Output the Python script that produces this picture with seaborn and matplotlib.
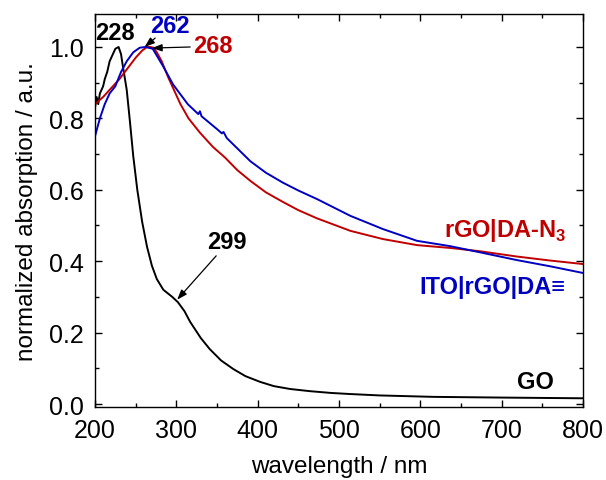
import matplotlib
matplotlib.use("Agg")
import matplotlib.pyplot as plt
from matplotlib.ticker import MultipleLocator, FormatStrFormatter
import numpy as np
import pandas as pd
import seaborn as sns

# Normalized UV-vis absorption spectra
go_wl = [200, 202, 204, 206, 210, 212, 215, 218, 222, 225, 229, 232, 234, 239, 243,
         247, 252, 258, 264, 270, 276, 284, 295, 302, 310, 317, 330, 341, 355, 370,
         385, 403, 420, 440, 464, 490, 513, 550, 616, 700, 800]
go_abs = [0.83, 0.86, 0.84, 0.87, 0.89, 0.91, 0.93, 0.96, 0.98, 0.995, 1.0, 0.98, 0.95,
          0.88, 0.79, 0.695, 0.60, 0.51, 0.44, 0.387, 0.35, 0.32, 0.30, 0.285, 0.26,
          0.23, 0.185, 0.154, 0.122, 0.098, 0.078, 0.062, 0.05, 0.042, 0.036, 0.031,
          0.028, 0.024, 0.02, 0.018, 0.016]

rgo_wl = [200, 210, 220, 230, 240, 250, 258, 264, 268, 272, 276, 282, 290, 295, 305,
          315, 329, 345, 360, 375, 391, 410, 431, 450, 473, 514, 554, 596, 637, 673,
          719, 759, 800]
rgo_abs = [0.84, 0.86, 0.885, 0.91, 0.94, 0.97, 0.99, 1.0, 1.0, 0.998, 0.985, 0.96,
           0.915, 0.89, 0.84, 0.80, 0.76, 0.72, 0.69, 0.655, 0.625, 0.593, 0.566,
           0.543, 0.52, 0.485, 0.462, 0.445, 0.437, 0.428, 0.413, 0.402, 0.392]

ito_wl = [200, 206, 212, 218, 225, 232, 239, 247, 255, 262, 271, 284, 296, 314, 327,
          329, 331, 350, 356, 358, 362, 391, 410, 431, 450, 473, 514, 554, 596, 637,
          673, 719, 759, 800]
ito_abs = [0.75, 0.80, 0.84, 0.87, 0.89, 0.93, 0.96, 0.985, 0.998, 1.0, 0.995, 0.945,
           0.895, 0.84, 0.812, 0.82, 0.806, 0.77, 0.758, 0.762, 0.745, 0.68, 0.648,
           0.62, 0.598, 0.574, 0.527, 0.49, 0.457, 0.442, 0.425, 0.403, 0.386, 0.367]

peak_go, peak_ito, peak_rgo, shoulder_go = 228, 262, 268, 299

BLACK = "#000000"
RED = "#C00000"
BLUE = "#0000C0"

sns.set_theme(style="ticks")
plt.rcParams["font.family"] = ["Liberation Sans", "DejaVu Sans"]
plt.rcParams.update({
    "text.color": "black", "axes.labelcolor": "black",
    "xtick.color": "black", "ytick.color": "black",
    "mathtext.fontset": "custom", "mathtext.rm": "Liberation Sans",
    "mathtext.bf": "Liberation Sans:bold",
})

fig = plt.figure(figsize=(6.06, 4.81), dpi=100)
ax = fig.add_axes([95 / 606, 1 - 408 / 481, (583 - 95) / 606, (408 - 15) / 481])

series = [
    ("GO", go_wl, go_abs, BLACK),
    ("rGO|DA-N3", rgo_wl, rgo_abs, RED),
    ("ITO|rGO|DA", ito_wl, ito_abs, BLUE),
]
for name, wl, ab, col in series:
    df = pd.DataFrame({"wavelength": wl, "absorption": ab})
    sns.lineplot(data=df, x="wavelength", y="absorption", color=col, lw=1.4, ax=ax,
                 estimator=None, sort=True)

ax.set_xlim(200, 800)
ax.set_ylim(-0.0084, 1.0924)
ax.xaxis.set_major_locator(MultipleLocator(100))
ax.xaxis.set_minor_locator(MultipleLocator(50))
ax.yaxis.set_major_locator(MultipleLocator(0.2))
ax.yaxis.set_minor_locator(MultipleLocator(0.1))
ax.yaxis.set_major_formatter(FormatStrFormatter("%.1f"))
ax.tick_params(which="both", direction="in", top=True, right=True,
               width=1.0, labelsize=18)
ax.tick_params(which="major", length=5, pad=8)
ax.tick_params(which="minor", length=3)
for s in ax.spines.values():
    s.set_color("black")
    s.set_linewidth(1.0)

ax.set_xlabel("wavelength / nm", fontsize=17.5, labelpad=9)
ax.set_ylabel("normalized absorption / a.u.", fontsize=17.5, labelpad=8)


def yval(wl, ab, x):
    return float(np.interp(x, wl, ab))


bold = dict(fontsize=17, fontweight="bold")
arrow = dict(arrowstyle="-|>,head_length=0.5,head_width=0.18", color="black",
             lw=0.9, shrinkA=0, shrinkB=0)

ax.text(peak_go - 4, 1.04, str(peak_go), color=BLACK, ha="center", va="center", **bold)

ax.text(292, 1.06, str(peak_ito), color=BLUE, ha="center", va="center", **bold)
ax.annotate("", xy=(peak_ito - 1, yval(ito_wl, ito_abs, peak_ito)),
            xytext=(274, 1.025), arrowprops=arrow)

ax.text(345, 1.003, str(peak_rgo), color=RED, ha="center", va="center", **bold)
ax.annotate("", xy=(peak_rgo + 2, 0.997), xytext=(317, 1.0), arrowprops=arrow)

ax.text(362, 0.454, str(shoulder_go), color=BLACK, ha="center", va="center", **bold)
ax.annotate("", xy=(shoulder_go + 2, yval(go_wl, go_abs, shoulder_go + 2) + 0.005),
            xytext=(349, 0.415), arrowprops=arrow)

ax.text(780, 0.49, "rGO|DA-N$_\\mathbf{3}$", color=RED, ha="right", va="center", **bold)
ax.text(778, 0.33, "ITO|rGO|DA\u2261", color=BLUE, ha="right", va="center", **bold)
ax.text(764, 0.064, "GO", color=BLACK, ha="right", va="center", **bold)

fig.savefig("out.png", dpi=100)
